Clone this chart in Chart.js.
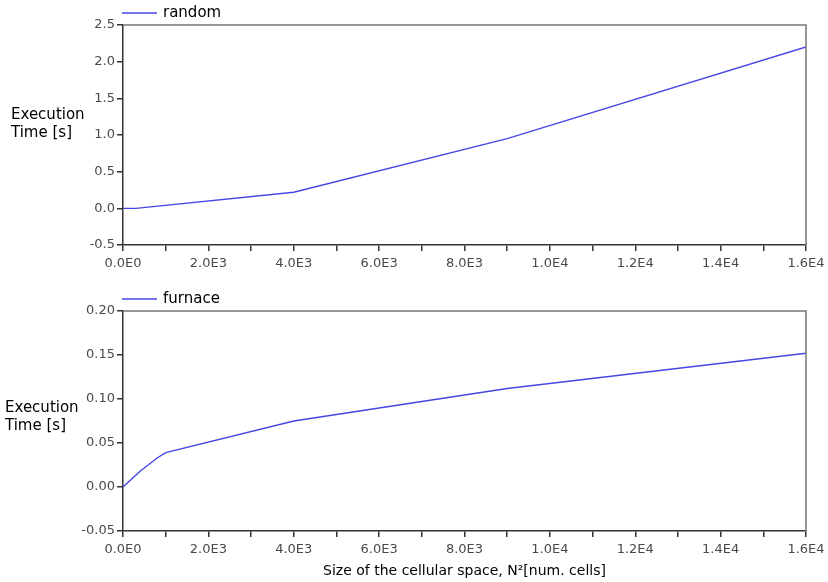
<!DOCTYPE html>
<html>
<head>
<meta charset="utf-8">
<script src="https://cdn.jsdelivr.net/npm/chart.js@4.4.0/dist/chart.umd.min.js"></script>
<style>
  html, body { margin: 0; padding: 0; background: #fff; }
  #wrap { position: relative; width: 828px; height: 582px; }
  canvas { position: absolute; left: 0; }
  #topChart { top: 0; }
  #bottomChart { top: 286px; }
</style>
</head>
<body>
<div id="wrap">
  <canvas id="topChart" width="828" height="280"></canvas>
  <canvas id="bottomChart" width="828" height="296"></canvas>
</div>
<script>
// cellular space size N^2
const xRandom = [0, 300, 4000, 9000, 16000];
const yRandom = [0.0, 0.0, 0.22, 0.95, 2.2];

const xFurnace = [0, 400, 800, 1000, 4000, 9000, 16000];
const yFurnace = [0.0, 0.018, 0.033, 0.039, 0.075, 0.112, 0.152];

const xTitle = 'Size of the cellular space, N\u00b2[num. cells]';
const yTitleLines = ['Execution', 'Time [s]'];

const lineColor = '#4646e6';
const axisColor = '#333';
const tickColor = '#4a4a4a';

// 2000 -> "2.0E3"
function sciLabel(v) {
    if (v === 0) return '0.0E0';
    const e = Math.floor(Math.log10(v));
    return (v / Math.pow(10, e)).toFixed(1) + 'E' + e;
}

// legend, box frame and horizontal y title
const decorPlugin = {
    id: 'decor',
    afterDraw(chart, args, opts) {
        const ctx = chart.ctx;
        const a = chart.chartArea;
        ctx.save();
        // top and right edges of the frame
        ctx.strokeStyle = '#777';
        ctx.lineWidth = 1.5;
        ctx.beginPath();
        ctx.moveTo(a.left, a.top);
        ctx.lineTo(a.right, a.top);
        ctx.lineTo(a.right, a.bottom);
        ctx.stroke();

        // legend
        const ly = a.top - opts.legendDy;
        ctx.strokeStyle = lineColor;
        ctx.lineWidth = 1.5;
        ctx.beginPath();
        ctx.moveTo(a.left - 1, ly);
        ctx.lineTo(a.left + 34, ly);
        ctx.stroke();
        ctx.fillStyle = '#000';
        ctx.font = '15px "DejaVu Sans"';
        ctx.textBaseline = 'middle';
        ctx.textAlign = 'left';
        ctx.fillText(chart.data.datasets[0].label, a.left + 40, ly);

        // y title
        ctx.font = '15px "DejaVu Sans"';
        yTitleLines.forEach((t, i) => {
            ctx.fillText(t, opts.titleX, opts.titleY[i]);
        });
        ctx.restore();
    }
};

function makeChart(id, label, xs, ys, yMin, yMax, yStep, yDec, decor, withTitle) {
    const points = xs.map((x, i) => ({ x: x, y: ys[i] }));
    return new Chart(document.getElementById(id), {
        type: 'line',
        data: {
            datasets: [{
                label: label,
                data: points,
                borderColor: lineColor,
                borderWidth: 1.4,
                pointRadius: 0,
                tension: 0,
                fill: false
            }]
        },
        options: {
            responsive: false,
            animation: false,
            layout: { padding: { top: 25, left: 0, right: 22, bottom: 0 } },
            plugins: {
                legend: { display: false },
                tooltip: { enabled: false },
                decor: decor
            },
            scales: {
                x: {
                    type: 'linear',
                    min: 0,
                    max: 16000,
                    afterFit: s => {
                        s.height = withTitle ? 51 : 35;
                        s.paddingLeft = 0;
                        s.paddingRight = 0;
                    },
                    ticks: {
                        stepSize: 1000,
                        autoSkip: false,
                        maxRotation: 0,
                        color: tickColor,
                        font: { family: 'DejaVu Sans', size: 13 },
                        padding: 5,
                        callback: v => (v % 2000 === 0 ? sciLabel(v) : '')
                    },
                    grid: { drawOnChartArea: false, tickLength: 6, color: axisColor, lineWidth: 1.5 },
                    border: { color: axisColor, width: 1.5 },
                    title: {
                        display: withTitle,
                        text: xTitle,
                        color: '#000',
                        font: { family: 'DejaVu Sans', size: 14 },
                        padding: { top: 0, bottom: 2 }
                    }
                },
                y: {
                    min: yMin,
                    max: yMax,
                    afterFit: s => { s.width = 123; },
                    ticks: {
                        stepSize: yStep,
                        color: tickColor,
                        font: { family: 'DejaVu Sans', size: 13 },
                        padding: 2,
                        callback: v => v.toFixed(yDec)
                    },
                    grid: { drawOnChartArea: false, tickLength: 6, color: axisColor, lineWidth: 1.5 },
                    border: { color: axisColor, width: 1.5 }
                }
            }
        },
        plugins: [decorPlugin]
    });
}

makeChart('topChart', 'random', xRandom, yRandom, -0.5, 2.5, 0.5, 1,
    { legendDy: 12, titleX: 11, titleY: [115, 133] }, false);
makeChart('bottomChart', 'furnace', xFurnace, yFurnace, -0.05, 0.2, 0.05, 2,
    { legendDy: 12, titleX: 5, titleY: [122, 140] }, true);
</script>
</body>
</html>
